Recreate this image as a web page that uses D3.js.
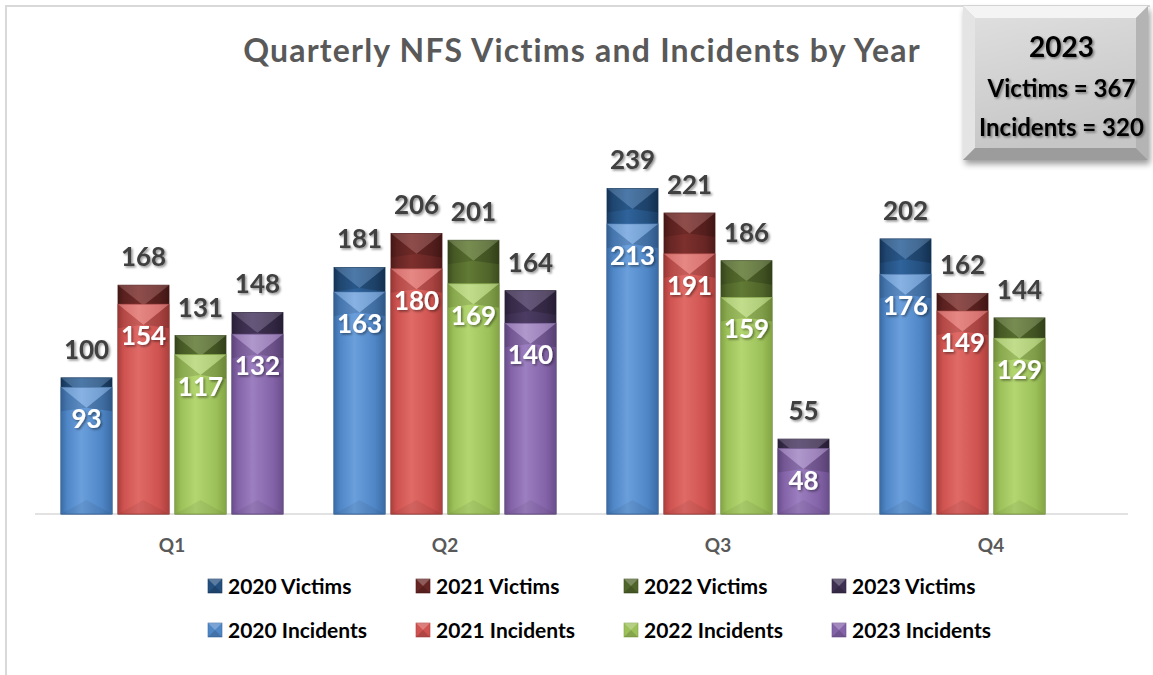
<!DOCTYPE html>
<html>
<head>
<meta charset="utf-8">
<script src="https://cdn.jsdelivr.net/npm/d3@7"></script>
<style>
  html, body { margin: 0; padding: 0; background: #fff; }
  svg { display: block; font-family: Lato, 'Open Sans', sans-serif; }
</style>
</head>
<body>
<svg id="chart" width="1153" height="675"></svg>
<script>
'use strict'

const quarters = ['Q1', 'Q2', 'Q3', 'Q4']
const years = ['2020', '2021', '2022', '2023']

// one array per year, values by quarter (2023 has no Q4 yet)
const victims2020 = [100, 181, 239, 202]
const victims2021 = [168, 206, 221, 162]
const victims2022 = [131, 201, 186, 144]
const victims2023 = [148, 164, 55, null]

const incidents2020 = [93, 163, 213, 176]
const incidents2021 = [154, 180, 191, 149]
const incidents2022 = [117, 169, 159, 129]
const incidents2023 = [132, 140, 48, null]

const victims = [victims2020, victims2021, victims2022, victims2023]
const incidents = [incidents2020, incidents2021, incidents2022, incidents2023]

const victimColors = [
  { base: '#24507f', light: '#2f639b', dark: '#183b62' },
  { base: '#672624', light: '#7d302d', dark: '#4f1b19' },
  { base: '#50652a', light: '#617a34', dark: '#3d4e1f' },
  { base: '#3e3052', light: '#4c3c64', dark: '#2f243f' }
]
const incidentColors = [
  { base: '#4f86c6', light: '#6a9fdc', dark: '#3b6ca6' },
  { base: '#cf5350', light: '#e06a66', dark: '#ad403d' },
  { base: '#9dc15a', light: '#b3d670', dark: '#84a645' },
  { base: '#8463a8', light: '#9c7fc0', dark: '#6b4f8c' }
]

const svg = d3.select('#chart')
const defs = svg.append('defs')

const shadow = defs.append('filter').attr('id', 'txtShadow')
  .attr('x', '-20%').attr('y', '-20%').attr('width', '140%').attr('height', '140%')
shadow.append('feDropShadow')
  .attr('dx', 1.5).attr('dy', 1.5).attr('stdDeviation', 1.2)
  .attr('flood-color', '#000').attr('flood-opacity', 0.45)

const boxShadow = defs.append('filter').attr('id', 'boxShadow')
  .attr('x', '-10%').attr('y', '-10%').attr('width', '130%').attr('height', '130%')
boxShadow.append('feDropShadow')
  .attr('dx', 2).attr('dy', 4).attr('stdDeviation', 3)
  .attr('flood-color', '#000').attr('flood-opacity', 0.4)

function addGradient (id, c) {
  const grad = defs.append('linearGradient').attr('id', id)
    .attr('x1', 0).attr('x2', 1).attr('y1', 0).attr('y2', 0)
  grad.append('stop').attr('offset', '0%').attr('stop-color', c.dark)
  grad.append('stop').attr('offset', '12%').attr('stop-color', c.base)
  grad.append('stop').attr('offset', '40%').attr('stop-color', c.light)
  grad.append('stop').attr('offset', '80%').attr('stop-color', c.base)
  grad.append('stop').attr('offset', '100%').attr('stop-color', c.dark)
}
victimColors.forEach((c, i) => addGradient(`gv${i}`, c))
incidentColors.forEach((c, i) => addGradient(`gi${i}`, c))

// chart frame (left and top rules)
svg.append('path')
  .attr('d', 'M6,675V6H1150')
  .attr('fill', 'none')
  .attr('stroke', '#d9d9d9')
  .attr('stroke-width', 2)

svg.append('text')
  .attr('x', 582).attr('y', 62)
  .attr('text-anchor', 'middle')
  .attr('font-size', 32)
  .attr('letter-spacing', 1.2)
  .attr('font-weight', 700)
  .attr('fill', '#595959')
  .text('Quarterly NFS Victims and Incidents by Year')

const x0 = d3.scaleBand().domain(quarters).range([35.5, 1127.5])
const x1 = d3.scaleBand().domain(years).range([0, 222]).paddingInner(0.105)
const groupOffset = (x0.bandwidth() - 222) / 2
const y = d3.scaleLinear().domain([0, 250]).range([514, 173.5])

svg.append('line')
  .attr('x1', 35).attr('x2', 1128)
  .attr('y1', y(0)).attr('y2', y(0))
  .attr('stroke', '#d9d9d9').attr('stroke-width', 1.5)

svg.append('g')
  .selectAll('text')
  .data(quarters)
  .join('text')
  .attr('x', q => x0(q) + x0.bandwidth() / 2)
  .attr('y', 552)
  .attr('text-anchor', 'middle')
  .attr('font-size', 19)
  .attr('font-weight', 700)
  .attr('fill', '#595959')
  .text(q => q)

function drawBar (g, bx, bw, top, bottom, gradId, c, hilite) {
  const h = bottom - top
  g.append('rect')
    .attr('x', bx).attr('y', top)
    .attr('width', bw).attr('height', h)
    .attr('fill', `url(#${gradId})`)
    .attr('stroke', c.dark).attr('stroke-width', 0.8)
  const d = Math.min(h, 24)
  const cx = bx + bw / 2
  // side facets of the top bevel
  g.append('path')
    .attr('d', `M${bx},${top}L${cx},${top + d * 0.85}L${bx},${top + d}Z`)
    .attr('fill', '#000').attr('fill-opacity', 0.12)
  g.append('path')
    .attr('d', `M${bx + bw},${top}L${cx},${top + d * 0.85}L${bx + bw},${top + d}Z`)
    .attr('fill', '#000').attr('fill-opacity', 0.18)
  g.append('path')
    .attr('d', `M${bx},${top}L${bx + bw},${top}L${cx},${top + d * 0.85}Z`)
    .attr('fill', '#fff').attr('fill-opacity', hilite)
  // bottom bevel
  const b = Math.min(h / 2, 14)
  g.append('path')
    .attr('d', `M${bx},${bottom}L${cx},${bottom - b}L${bx + bw},${bottom}Z`)
    .attr('fill', '#000').attr('fill-opacity', 0.06)
}

const bars = svg.append('g')
const labels = svg.append('g')

quarters.forEach((q, qi) => {
  years.forEach((yr, yi) => {
    const v = victims[yi][qi]
    const n = incidents[yi][qi]
    if (v == null) return
    const bx = x0(q) + groupOffset + x1(yr)
    const bw = x1.bandwidth()
    const g = bars.append('g')
    drawBar(g, bx, bw, y(v), y(0), `gv${yi}`, victimColors[yi], 0.14)
    drawBar(g, bx, bw, y(n), y(0), `gi${yi}`, incidentColors[yi], 0.2)

    labels.append('text')
      .attr('x', bx + bw / 2).attr('y', y(v) - 19)
      .attr('text-anchor', 'middle')
      .attr('font-size', 26).attr('font-weight', 700)
      .attr('fill', '#404040')
      .attr('filter', 'url(#txtShadow)')
      .text(v)
    labels.append('text')
      .attr('x', bx + bw / 2).attr('y', y(n) + 41)
      .attr('text-anchor', 'middle')
      .attr('font-size', 26).attr('font-weight', 700)
      .attr('fill', '#fff')
      .attr('filter', 'url(#txtShadow)')
      .text(n)
  })
})

// legend: victims on the first row, incidents on the second
const legendItems = []
years.forEach((yr, i) => {
  legendItems.push({ label: `${yr} Victims`, c: victimColors[i], row: 0, col: i })
  legendItems.push({ label: `${yr} Incidents`, c: incidentColors[i], row: 1, col: i })
})

const legend = svg.append('g')
legendItems.forEach(item => {
  const tx = 228 + item.col * 208
  const cy = 586 + item.row * 44
  const mx = tx - 20
  const my = cy - 7
  const s = 14
  const g = legend.append('g')
  g.append('rect').attr('x', mx).attr('y', my).attr('width', s).attr('height', s)
    .attr('fill', item.c.base).attr('stroke', item.c.dark).attr('stroke-width', 0.6)
  g.append('path').attr('d', `M${mx},${my}L${mx + s},${my}L${mx + s / 2},${my + s / 2}Z`)
    .attr('fill', '#fff').attr('fill-opacity', 0.25)
  g.append('path').attr('d', `M${mx},${my + s}L${mx + s},${my + s}L${mx + s / 2},${my + s / 2}Z`)
    .attr('fill', '#000').attr('fill-opacity', 0.15)
  g.append('text')
    .attr('x', tx).attr('y', cy + 7.5)
    .attr('font-size', 21).attr('font-weight', 700)
    .attr('fill', '#000')
    .text(item.label)
})

// 2023 totals box
const bxL = 963
const bxT = 6
const bxW = 185
const bxH = 154
const bev = 12
const box = svg.append('g')
box.append('rect')
  .attr('x', bxL).attr('y', bxT).attr('width', bxW).attr('height', bxH)
  .attr('fill', '#cfcfcf')
  .attr('filter', 'url(#boxShadow)')
const facets = [
  { d: [[0, 0], [bxW, 0], [bxW - bev, bev], [bev, bev]], f: '#f4f4f4' },
  { d: [[0, 0], [bev, bev], [bev, bxH - bev], [0, bxH]], f: '#e4e4e4' },
  { d: [[bxW, 0], [bxW, bxH], [bxW - bev, bxH - bev], [bxW - bev, bev]], f: '#b4b4b4' },
  { d: [[0, bxH], [bev, bxH - bev], [bxW - bev, bxH - bev], [bxW, bxH]], f: '#9c9c9c' }
]
const boxFace = defs.append('linearGradient').attr('id', 'boxFace')
  .attr('x1', 0).attr('x2', 0.3).attr('y1', 0).attr('y2', 1)
boxFace.append('stop').attr('offset', '0%').attr('stop-color', '#dedede')
boxFace.append('stop').attr('offset', '100%').attr('stop-color', '#c6c6c6')
box.append('rect')
  .attr('x', bxL + bev).attr('y', bxT + bev)
  .attr('width', bxW - 2 * bev).attr('height', bxH - 2 * bev)
  .attr('fill', 'url(#boxFace)')
facets.forEach(fc => {
  box.append('path')
    .attr('d', 'M' + fc.d.map(p => `${bxL + p[0]},${bxT + p[1]}`).join('L') + 'Z')
    .attr('fill', fc.f)
})

const boxLines = [
  { t: '2023', y: 57, size: 28 },
  { t: `Victims = ${d3.sum(victims2023)}`, y: 97, size: 24 },
  { t: `Incidents = ${d3.sum(incidents2023)}`, y: 136, size: 24 }
]
box.selectAll('text.total')
  .data(boxLines)
  .join('text')
  .attr('class', 'total')
  .attr('x', bxL + bxW / 2 + 6)
  .attr('y', d => d.y)
  .attr('text-anchor', 'middle')
  .attr('font-size', d => d.size)
  .attr('font-weight', 700)
  .attr('fill', '#000')
  .attr('filter', 'url(#txtShadow)')
  .text(d => d.t)
</script>
</body>
</html>
